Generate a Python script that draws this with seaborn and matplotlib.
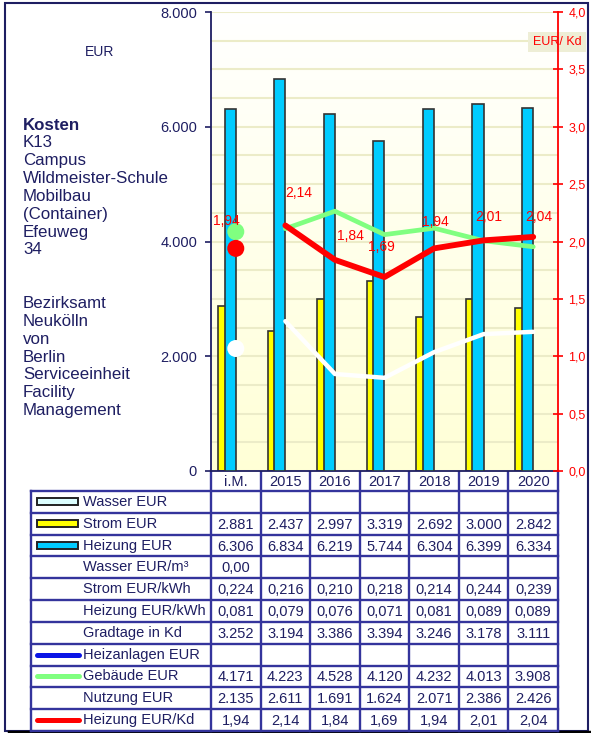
import numpy as np
import seaborn as sns
from matplotlib import pyplot as plt
from matplotlib.patches import Rectangle

# --- Daten ---
kategorien = ['i.M.', '2015', '2016', '2017', '2018', '2019', '2020']
strom_eur = [2881, 2437, 2997, 3319, 2692, 3000, 2842]
heizung_eur = [6306, 6834, 6219, 5744, 6304, 6399, 6334]
wasser_eur_m3 = [0.00, None, None, None, None, None, None]
strom_eur_kwh = [0.224, 0.216, 0.210, 0.218, 0.214, 0.244, 0.239]
heizung_eur_kwh = [0.081, 0.079, 0.076, 0.071, 0.081, 0.089, 0.089]
gradtage_kd = [3252, 3194, 3386, 3394, 3246, 3178, 3111]
gebaeude_eur = [4171, 4223, 4528, 4120, 4232, 4013, 3908]
nutzung_eur = [2135, 2611, 1691, 1624, 2071, 2386, 2426]
heizung_eur_kd = [1.94, 2.14, 1.84, 1.69, 1.94, 2.01, 2.04]

links_text = ['K13', 'Campus', 'Wildmeister-Schule', 'Mobilbau', '(Container)',
              'Efeuweg', '34', '', '', 'Bezirksamt', 'Neukölln', 'von', 'Berlin',
              'Serviceeinheit', 'Facility', 'Management']

# Farben
NAVY = '#1e1e62'
GRID_BLUE = '#34349c'
GELB = '#ffff00'
BLAU = '#00ccff'
GRUEN = '#80ff80'
ROT = '#ff0000'

plt.rcParams['font.family'] = ['Liberation Sans', 'DejaVu Sans']


def fmt_int(v):
    return '' if v is None else f'{v:,}'.replace(',', '.')


def fmt_dec(v, n):
    return '' if v is None else f'{v:.{n}f}'.replace('.', ',')


W, H = 591, 733
fig = plt.figure(figsize=(W / 100, H / 100), dpi=100)

# Overlay in Pixelkoordinaten (Rahmen, Texte, Tabelle)
ov = fig.add_axes([0, 0, 1, 1], zorder=-1)
ov.set_xlim(0, W)
ov.set_ylim(H, 0)
ov.axis('off')

L, R, TOP, BOT = 211, 558, 12, 471
ax = fig.add_axes([L / W, (H - BOT) / H, (R - L) / W, (BOT - TOP) / H])
xs = np.arange(len(kategorien))

# Hintergrund-Verlauf
grad = np.linspace(0, 1, 256).reshape(-1, 1)
top_c = np.array([1.0, 1.0, 1.0])
bot_c = np.array([1.0, 1.0, 0.84])
img = top_c + (bot_c - top_c) * grad
ax.imshow(img[::-1].reshape(256, 1, 3), extent=(-0.5, 6.5, 0, 8000),
          aspect='auto', origin='lower', zorder=0)

# Balken
sns.barplot(x=xs - 0.245, y=strom_eur, native_scale=True, width=0.225,
            color=GELB, saturation=1, edgecolor='#333333', linewidth=1.2,
            errorbar=None, ax=ax, zorder=2)
sns.barplot(x=xs - 0.115, y=heizung_eur, native_scale=True, width=0.225,
            color=BLAU, saturation=1, edgecolor='#333333', linewidth=1.2,
            errorbar=None, ax=ax, zorder=3)

# Linien linke Achse
sns.lineplot(x=xs[1:], y=gebaeude_eur[1:], color=GRUEN, linewidth=3.4,
             solid_capstyle='round', ax=ax, zorder=4)
sns.scatterplot(x=xs[:1], y=gebaeude_eur[:1], color=GRUEN, s=150,
                edgecolor='none', ax=ax, zorder=4)
sns.lineplot(x=xs[1:], y=nutzung_eur[1:], color='white', linewidth=3.2,
             solid_capstyle='round', ax=ax, zorder=4)
sns.scatterplot(x=xs[:1], y=nutzung_eur[:1], color='white', s=150,
                edgecolor='none', ax=ax, zorder=4)

ax.set_xlim(-0.5, 6.5)
ax.set_ylim(0, 8000)
ax.set_yticks(range(0, 8001, 2000))
ax.set_yticklabels([fmt_int(v) for v in range(0, 8001, 2000)])
ax.set_yticks(range(0, 8001, 500), minor=True)
ax.grid(which='both', axis='y', color='#ececc8', linewidth=1.5, zorder=1)
ax.set_axisbelow(True)
ax.set_xticks([])
ax.set_xlabel('')
ax.set_ylabel('')
ax.tick_params(axis='y', which='major', colors=NAVY, labelsize=10.5,
               length=4, width=1.2, pad=6)
ax.tick_params(axis='y', which='minor', length=0)
for s in ['top', 'right']:
    ax.spines[s].set_visible(False)
for s in ['left', 'bottom']:
    ax.spines[s].set_color(NAVY)
    ax.spines[s].set_linewidth(1.3)

# rechte Achse: Heizung EUR/Kd
ax2 = ax.twinx()
sns.lineplot(x=xs[1:], y=heizung_eur_kd[1:], color=ROT, linewidth=4.2,
             solid_capstyle='round', ax=ax2, zorder=5)
sns.scatterplot(x=xs[:1], y=heizung_eur_kd[:1], color=ROT, s=150,
                edgecolor='none', ax=ax2, zorder=5)
label_offsets = [(-7, 20), (10, 23), (11, 17), (-2, 22), (1, 19), (4, 17), (4, 14)]
for x, v, off in zip(xs, heizung_eur_kd, label_offsets):
    ax2.annotate(fmt_dec(v, 2), (x, v), xytext=off, textcoords='offset points',
                 ha='center', va='center', color=ROT, fontsize=10)
ax2.set_ylim(0, 4)
ax2.set_yticks(np.arange(0, 4.01, 0.5))
ax2.set_yticklabels([fmt_dec(v, 1) for v in np.arange(0, 4.01, 0.5)])
ax2.set_xlim(-0.5, 6.5)
ax2.set_ylabel('')
ax2.tick_params(axis='y', colors=ROT, labelsize=9, direction='inout',
                length=7, width=1.2, pad=4)
for s in ['top', 'left', 'bottom']:
    ax2.spines[s].set_visible(False)
ax2.spines['right'].set_color(ROT)
ax2.spines['right'].set_linewidth(1.3)
ax2.text(557, 42, 'EUR/ Kd', transform=ov.transData, ha='center', va='center',
         color=ROT, fontsize=9, zorder=2, clip_on=False,
         bbox=dict(boxstyle='square,pad=0.35', facecolor='#eeeed6',
                   edgecolor='none'))

# Texte links
ov.text(100, 52, 'EUR', ha='center', va='center', color=NAVY, fontsize=10)
ov.text(23, 125, 'Kosten', ha='left', va='center', color=NAVY, fontsize=12.2,
        fontweight='bold')
for k, zeile in enumerate(links_text):
    if zeile:
        ov.text(23, 142.8 + 17.85 * k, zeile, ha='left', va='center',
                color=NAVY, fontsize=12.2)

# Rahmen
ov.add_patch(Rectangle((5, 3), 583, 728, fill=False, edgecolor=NAVY, linewidth=1.5))
ov.plot([9, 590], [731.5, 731.5], color='black', linewidth=2.5)

# Tabelle
col_w = (R - L) / len(kategorien)
col_x = [L + i * col_w for i in range(len(kategorien) + 1)]
T_LEFT = 30.5
HEAD_TOP, HEAD_BOT = BOT, 491
row_h = (731 - HEAD_BOT) / 11
row_y = [HEAD_BOT + k * row_h for k in range(12)]

zeilen = [
    ('Wasser EUR', [''] * 7, 'box', '#ddffff'),
    ('Strom EUR', [fmt_int(v) for v in strom_eur], 'box', GELB),
    ('Heizung EUR', [fmt_int(v) for v in heizung_eur], 'box', BLAU),
    ('Wasser EUR/m³', [fmt_dec(v, 2) for v in wasser_eur_m3], None, None),
    ('Strom EUR/kWh', [fmt_dec(v, 3) for v in strom_eur_kwh], None, None),
    ('Heizung EUR/kWh', [fmt_dec(v, 3) for v in heizung_eur_kwh], None, None),
    ('Gradtage in Kd', [fmt_int(v) for v in gradtage_kd], None, None),
    ('Heizanlagen EUR', [''] * 7, 'line', '#0a14e6'),
    ('Gebäude EUR', [fmt_int(v) for v in gebaeude_eur], 'line', GRUEN),
    ('Nutzung EUR', [fmt_int(v) for v in nutzung_eur], None, None),
    ('Heizung EUR/Kd', [fmt_dec(v, 2) for v in heizung_eur_kd], 'line', ROT),
]

lw_t = 1.7
for y in row_y:
    ov.plot([T_LEFT, R], [y, y], color=GRID_BLUE, linewidth=lw_t)
ov.plot([T_LEFT, T_LEFT], [HEAD_BOT, row_y[-1]], color=GRID_BLUE, linewidth=lw_t)
for x in col_x:
    ov.plot([x, x], [HEAD_TOP, row_y[-1]], color=GRID_BLUE, linewidth=lw_t)

for i, k in enumerate(kategorien):
    ov.text((col_x[i] + col_x[i + 1]) / 2, (HEAD_TOP + HEAD_BOT) / 2 + 1, k,
            ha='center', va='center', color=NAVY, fontsize=10.5)

for r, (name, werte, art, farbe) in enumerate(zeilen):
    yc = (row_y[r] + row_y[r + 1]) / 2
    if art == 'box':
        ov.add_patch(Rectangle((37, yc - 3.5), 41, 7, facecolor=farbe,
                               edgecolor='#222222', linewidth=1.4))
    elif art == 'line':
        ov.plot([37, 79], [yc, yc], color=farbe, linewidth=3.6,
                solid_capstyle='round')
    ov.text(83, yc, name, ha='left', va='center', color=NAVY, fontsize=10.5)
    for i, w in enumerate(werte):
        ov.text((col_x[i] + col_x[i + 1]) / 2, yc + 1, w, ha='center',
                va='center', color=NAVY, fontsize=10.5)

fig.savefig('out.png', dpi=100)
